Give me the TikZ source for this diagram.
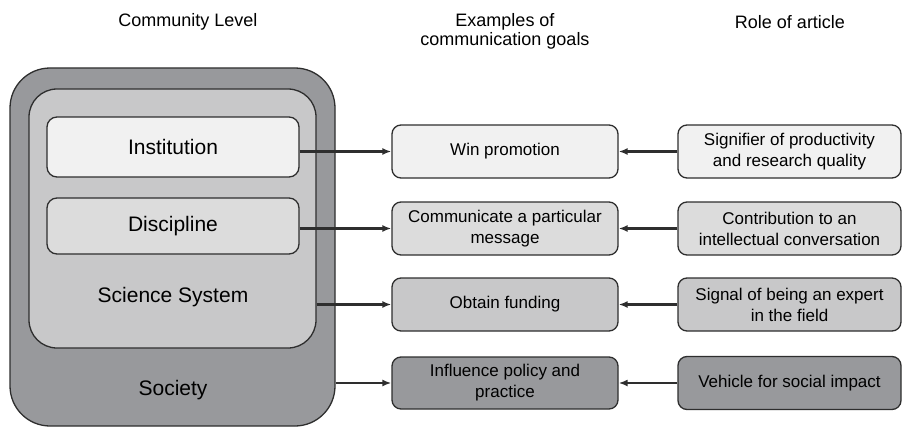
\documentclass[tikz,border=0pt]{standalone}
\usepackage{fontspec}
\setmainfont{Liberation Sans}
\usetikzlibrary{arrows.meta}

\definecolor{lineC}{HTML}{2E2E2E}
\definecolor{toneA}{HTML}{F1F1F1}
\definecolor{toneB}{HTML}{DCDCDC}
\definecolor{toneC}{HTML}{C8C8C9}
\definecolor{toneD}{HTML}{98999C}

\begin{document}
\begin{tikzpicture}[x=1pt,y=-1pt,
  levelbox/.style={draw=lineC, line width=1.3pt, inner sep=0pt, font=\fontsize{21}{25}\selectfont},
  goalbox/.style={draw=lineC, line width=1.3pt, rounded corners=9pt, inner sep=0pt,
    minimum height=53pt, align=center, font=\fontsize{17}{21}\selectfont},
  head/.style={align=center, font=\fontsize{18}{19}\selectfont},
  arr/.style={-{Latex[length=9pt,width=7pt]}, line width=2.2pt, draw=lineC}]

\useasboundingbox (0,0) rectangle (903,428);

% column heads
\node[head] (H1) at (188,22) {Community Level};
\node[head] (H2) at (505,31.5) {Examples of\\communication goals};
\node[head] (H3) at (790,22) {Role of article};

% nested community levels
\node[levelbox, fill=toneD, rounded corners=40pt, minimum width=325pt, minimum height=358pt] (Soc) at (172.5,247) {};
\node[levelbox, fill=toneC, rounded corners=28pt, minimum width=287pt, minimum height=259pt] (Sci) at (172.5,218.5) {};
\node[levelbox, fill=toneA, rounded corners=10pt, minimum width=252pt, minimum height=60pt] (Ins) at (173,147) {Institution};
\node[levelbox, fill=toneB, rounded corners=10pt, minimum width=252pt, minimum height=56pt] (Dis) at (173,226) {Discipline};
\node[font=\fontsize{21}{25}\selectfont] (SciL) at (173,297) {Science System};
\node[font=\fontsize{21}{25}\selectfont] (SocL) at (173,390) {Society};

% communication goals
\node[goalbox, fill=toneA, minimum width=226pt] (G1) at (505,151.5) {Win promotion};
\node[goalbox, fill=toneB, minimum width=226pt] (G2) at (505,228.5) {Communicate a particular\\message};
\node[goalbox, fill=toneC, minimum width=226pt] (G3) at (505,304.5) {Obtain funding};
\node[goalbox, fill=toneD, minimum width=226pt, minimum height=52pt] (G4) at (505,383) {Influence policy and\\practice};

% role of article
\node[goalbox, fill=toneA, minimum width=223pt] (R1) at (789.5,151.5) {Signifier of productivity\\and research quality};
\node[goalbox, fill=toneB, minimum width=223pt] (R2) at (789.5,228.5) {Contribution to an\\intellectual conversation};
\node[goalbox, fill=toneC, minimum width=223pt] (R3) at (789.5,304.5) {Signal of being an expert\\in the field};
\node[goalbox, fill=toneD, minimum width=223pt] (R4) at (789.5,383) {Vehicle for social impact};

\path (Ins.east |- G1.west) edge[arr] (G1.west)
      (Dis.east |- G2.west) edge[arr] (G2.west)
      (Sci.east |- G3.west) edge[arr] (G3.west)
      (Soc.east |- G4.west) edge[arr] (G4.west);

\path (R1.west) edge[arr] (G1.east)
      (R2.west) edge[arr] (G2.east)
      (R3.west) edge[arr] (G3.east)
      (R4.west) edge[arr] (G4.east);

\end{tikzpicture}
\end{document}
